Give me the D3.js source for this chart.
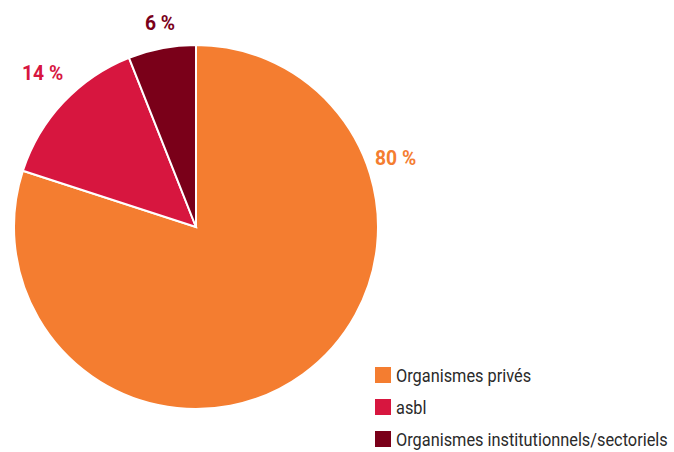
<!DOCTYPE html>
<html><head><meta charset="utf-8">
<script src="https://cdn.jsdelivr.net/npm/d3@7"></script>
<style>body{margin:0;background:#fff}</style>
</head><body>
<svg id="c" width="674" height="452"></svg>
<script>
const categories = ["Organismes privés", "asbl", "Organismes institutionnels/sectoriels"];
const values = [80, 14, 6];
const labels = ["80 %", "14 %", "6 %"];
const colors = ["#F47D30", "#D7163F", "#7A0019"];

const svg = d3.select("#c");
const font = "'Liberation Sans Narrow', 'Roboto', sans-serif";
const cx = 196, cy = 227, r = 182;
const pie = d3.pie().sort(null).value(d => d)(values);
const arc = d3.arc().innerRadius(0).outerRadius(r);
const g = svg.append("g").attr("transform", `translate(${cx},${cy})`);
g.selectAll("path").data(pie).join("path")
  .attr("d", arc).attr("fill", (d, i) => colors[i])
  .attr("stroke", "#fff").attr("stroke-width", 2);

const labelPos = [[375, 165], [22, 80], [145, 30]];
svg.selectAll("text.lab").data(labels).join("text").attr("class", "lab")
  .attr("transform", (d, i) => `translate(${labelPos[i][0]},${labelPos[i][1]}) scale(0.92,1)`)
  .attr("fill", (d, i) => colors[i])
  .style("font-family", font).style("font-weight", "bold").style("font-size", "21px")
  .text(d => d);

const lg = svg.append("g");
const rows = lg.selectAll("g").data(categories).join("g")
  .attr("transform", (d, i) => `translate(375, ${367 + i * 32})`);
rows.append("rect").attr("width", 16).attr("height", 16).attr("fill", (d, i) => colors[i]);
rows.append("text").attr("transform", "translate(21,14.5) scale(0.86,1)")
  .style("font-family", font).style("font-size", "19px").attr("fill", "#2a2a2a")
  .text(d => d);
</script>
</body></html>
